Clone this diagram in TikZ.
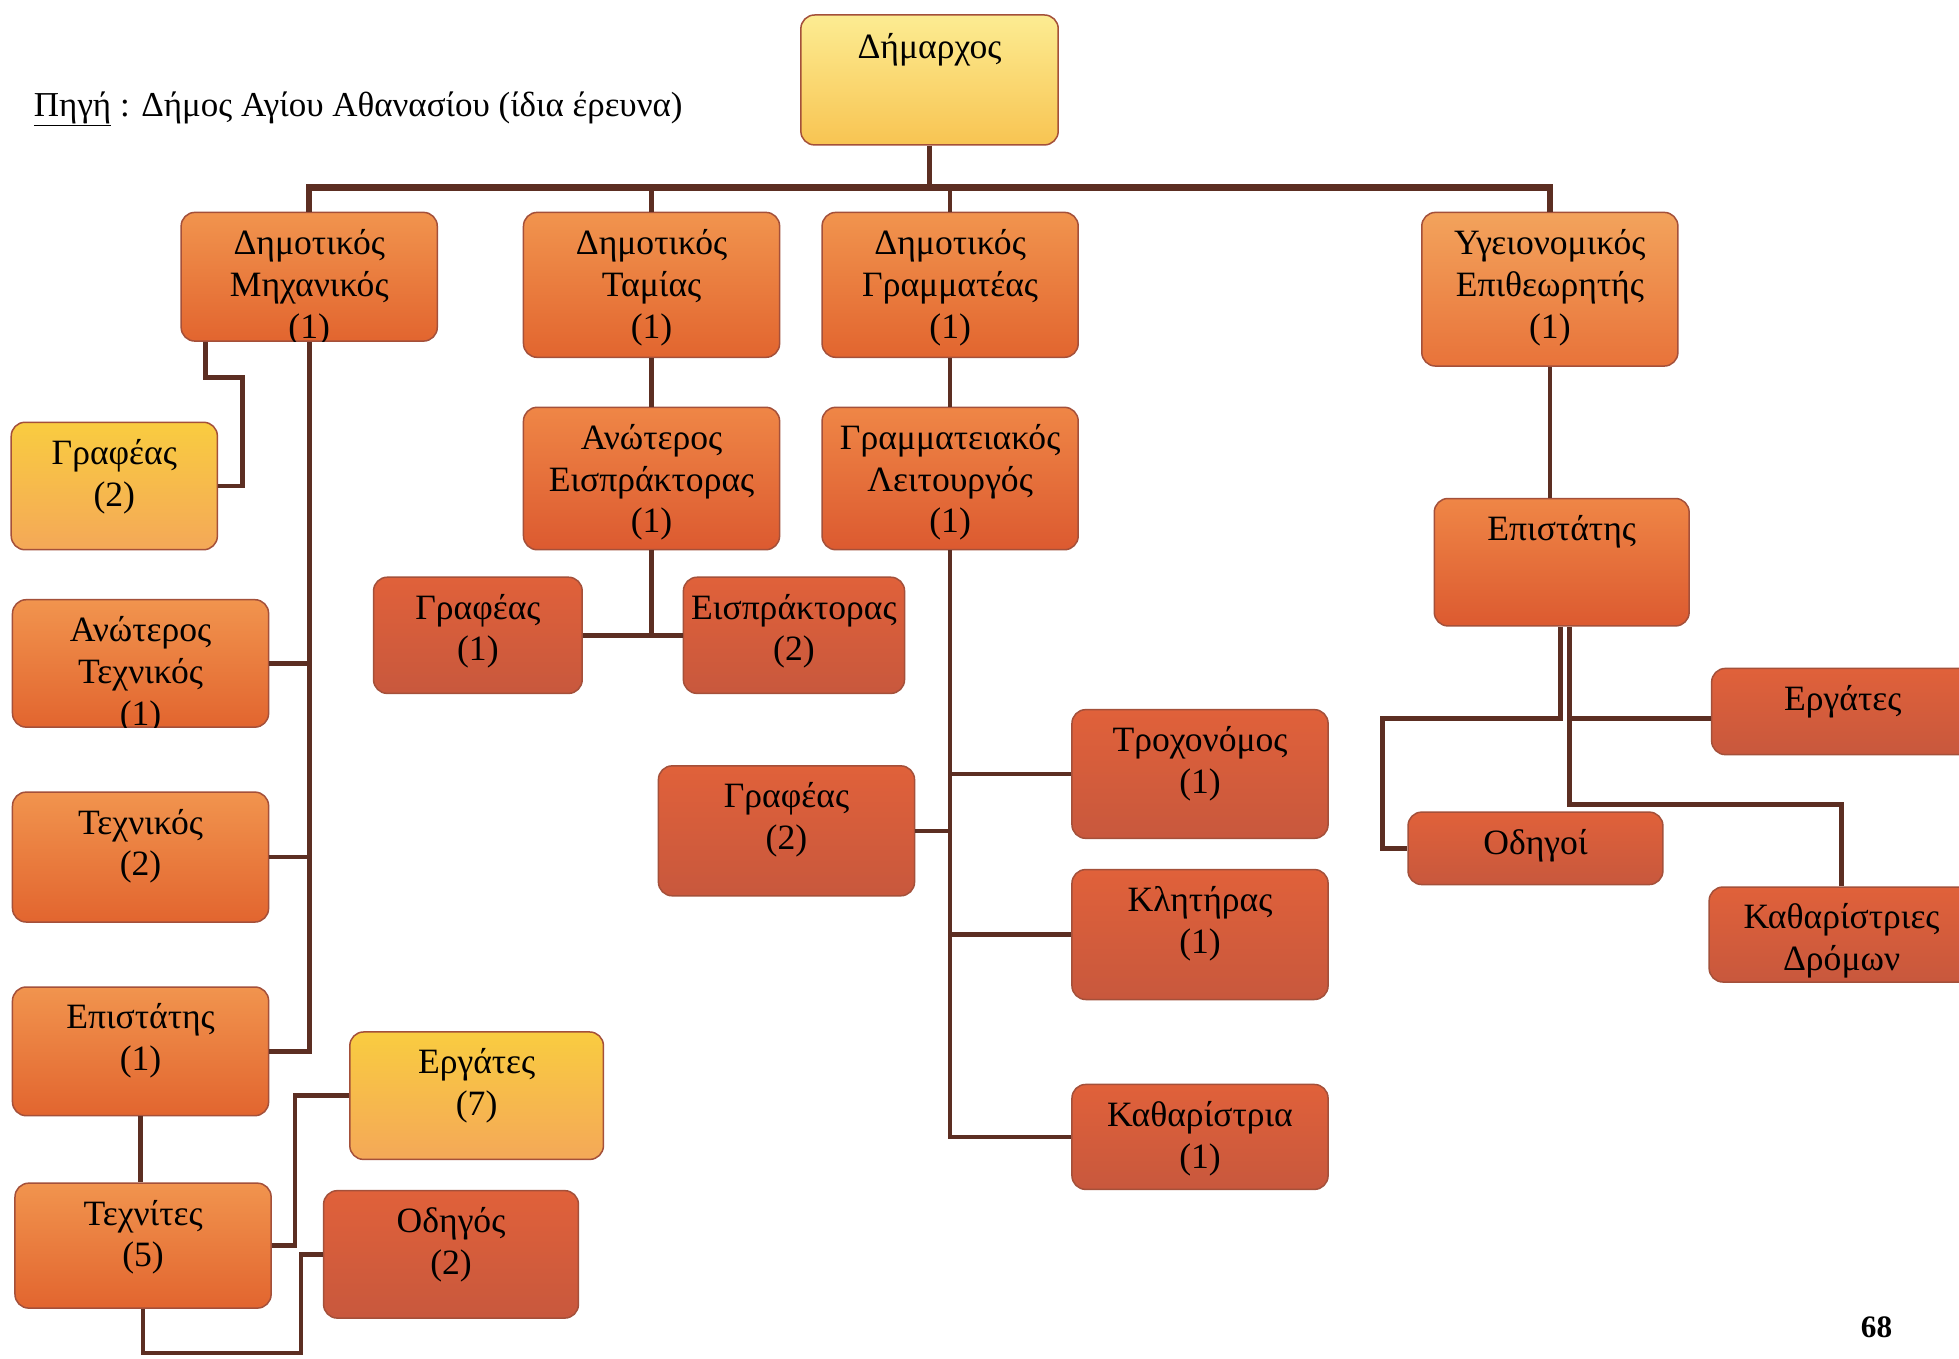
\documentclass[tikz,border=0pt]{standalone}
\usepackage{fontspec}
\setmainfont{Liberation Serif}
\usetikzlibrary{fit,calc}
\definecolor{linec}{HTML}{5C2E22}
\definecolor{edgec}{HTML}{A4503A}
\definecolor{orT}{HTML}{F1944E}
\definecolor{orB}{HTML}{E2652F}
\definecolor{loT}{HTML}{F3A35C}
\definecolor{loB}{HTML}{E8733A}
\definecolor{miT}{HTML}{EF8646}
\definecolor{miB}{HTML}{DC5A30}
\definecolor{reT}{HTML}{E0613A}
\definecolor{reB}{HTML}{C8583D}
\definecolor{yeT}{HTML}{F9CC40}
\definecolor{yeB}{HTML}{F4A858}
\definecolor{maT}{HTML}{FCEC92}
\definecolor{maM}{HTML}{FADA5E}
\definecolor{maB}{HTML}{F8C452}
\tikzset{
  x=1pt, y=-1pt,
  box/.style={draw=edgec, line width=1.2pt, rounded corners=11pt, inner sep=0pt},
  orbox/.style={box, top color=orT, bottom color=orB},
  lobox/.style={box, top color=loT, bottom color=loB},
  mibox/.style={box, top color=miT, bottom color=miB},
  rebox/.style={box, top color=reT, bottom color=reB},
  yebox/.style={box, top color=yeT, bottom color=yeB},
  mabox/.style={box, top color=maT, middle color=maM, bottom color=maB},
  lbl/.style={anchor=north, align=center, inner sep=0pt, font=\fontsize{28.5}{33.5}\selectfont},
  conn/.style={draw=linec, line width=3.7pt},
  busl/.style={draw=linec, line width=5pt},
}
\newcommand\obox[5]{%
  \node[#2, fit={#3 #4}] (#1) {};
  \node[lbl] (#1-t) at ([yshift=-10.5pt]#1.north) {\strut #5};
}
\newcommand\oboxc[5]{%
  \node[#2, fit={#3 #4}] (#1) {};
  \begin{scope}
    \clip[rounded corners=11pt] #3 rectangle #4;
    \node[lbl] (#1-t) at ([yshift=-10.5pt]#1.north) {\strut #5};
  \end{scope}
}
\begin{document}
\begin{tikzpicture}
\fill[white] (0,0) rectangle (1568,1087);
\useasboundingbox (0,0) rectangle (1568,1087);

% header
\node[anchor=west, inner sep=0pt, font=\fontsize{28}{33}\selectfont] (src) at (27,87)
  {\underline{Πηγή} : Δήμος Αγίου Αθανασίου (ίδια έρευνα)};
\node[inner sep=0pt, font=\bfseries\fontsize{25}{29}\selectfont] (pg) at (1502,1062) {68};

% boxes
\node[mabox, fit={(641,12) (847,116)}] (mayor) {};
\node[lbl] (mayor-t) at ([yshift=-12pt]mayor.north) {\strut Δήμαρχος};

\oboxc{mech}{orbox}{(145,170)}{(350,273)}{Δημοτικός\\Μηχανικός\\(1)}
\obox{tam}{orbox}{(419,170)}{(624,286)}{Δημοτικός\\Ταμίας\\(1)}
\obox{gram}{orbox}{(658,170)}{(863,286)}{Δημοτικός\\Γραμματέας\\(1)}
\obox{sanit}{lobox}{(1138,170)}{(1343,293)}{Υγειονομικός\\Επιθεωρητής\\(1)}

\obox{graf2}{yebox}{(9,338)}{(174,440)}{Γραφέας\\(2)}
\oboxc{antech}{orbox}{(10,480)}{(215,582)}{Ανώτερος\\Τεχνικός\\(1)}
\obox{tech2}{orbox}{(10,634)}{(215,738)}{Τεχνικός\\(2)}
\obox{epl}{orbox}{(10,790)}{(215,893)}{Επιστάτης\\(1)}
\obox{techn}{orbox}{(12,947)}{(217,1047)}{Τεχνίτες\\(5)}
\obox{ergy}{yebox}{(280,826)}{(483,928)}{Εργάτες\\(7)}
\obox{odig}{rebox}{(259,953)}{(463,1055)}{Οδηγός\\(2)}

\obox{anis}{mibox}{(419,326)}{(624,440)}{Ανώτερος\\Εισπράκτορας\\(1)}
\obox{graf1}{rebox}{(299,462)}{(466,555)}{Γραφέας\\(1)}
\obox{eisp}{rebox}{(547,462)}{(724,555)}{Εισπράκτορας\\(2)}

\obox{gramlei}{mibox}{(658,326)}{(863,440)}{Γραμματειακός\\Λειτουργός\\(1)}
\obox{graf3}{rebox}{(527,613)}{(732,717)}{Γραφέας\\(2)}
\obox{troch}{rebox}{(858,568)}{(1063,671)}{Τροχονόμος\\(1)}
\obox{klit}{rebox}{(858,696)}{(1063,800)}{Κλητήρας\\(1)}
\obox{kath}{rebox}{(858,868)}{(1063,952)}{Καθαρίστρια\\(1)}

\obox{epr}{mibox}{(1148,399)}{(1352,501)}{Επιστάτης}
\obox{ergr}{rebox}{(1370,535)}{(1580,604)}{Εργάτες}
\obox{odigoi}{rebox}{(1127,650)}{(1331,708)}{Οδηγοί}
\obox{kathd}{rebox}{(1368,710)}{(1580,786)}{Καθαρίστριες\\Δρόμων}

% coordinates for connector bends
\coordinate (bus) at (744,150);
\coordinate (g2a) at (194,302);
\coordinate (tx) at (236,0);
\coordinate (tb) at (241,1083);
\coordinate (ra) at (1249,575);
\coordinate (rc) at (1256,644);

% top level
\draw[conn] (mayor.south) -- (bus);
\draw[busl] (mech.north) |- (bus) -| (sanit.north);
\draw[conn] (tam.north) -- (tam.north |- bus);
\draw[conn] (gram.north) -- (gram.north |- bus);

% engineer branch
\draw[conn] ([xshift=20pt]mech.south west) |- (g2a) |- (graf2.east);
\draw[conn] (mech.south) |- (epl.east);
\draw[conn] (antech.east) -- (antech.east -| mech.south);
\draw[conn] (tech2.east) -- (tech2.east -| mech.south);
\draw[conn] (epl.south) -- (epl.south |- techn.north);
\draw[conn] (techn.east) -| (tx |- ergy.west) -- (ergy.west);
\draw[conn] (techn.south) |- (tb) |- (odig.west);

% treasurer branch
\draw[conn] (tam.south) -- (anis.north);
\draw[conn] (anis.south) -- (anis.south |- graf1.east);
\draw[conn] (graf1.east) -- (eisp.west);

% secretary branch
\draw[conn] (gram.south) -- (gramlei.north);
\draw[conn] (gramlei.south) |- (kath.west);
\draw[conn] (graf3.east) -- (graf3.east -| gramlei.south);
\draw[conn] (troch.west) -- (troch.west -| gramlei.south);
\draw[conn] (klit.west) -- (klit.west -| gramlei.south);

% health inspector branch
\draw[conn] (sanit.south) -- (sanit.south |- epr.north);
\draw[conn] (ra |- epr.south) -- (ra) -| ([xshift=-20pt]odigoi.west) -- (odigoi.west);
\draw[conn] (rc |- epr.south) -- (rc) -| (kathd.north);
\draw[conn] (rc |- ra) -- (rc |- ra -| ergr.west) -- (ergr.west |- ra);
\end{tikzpicture}
\end{document}
